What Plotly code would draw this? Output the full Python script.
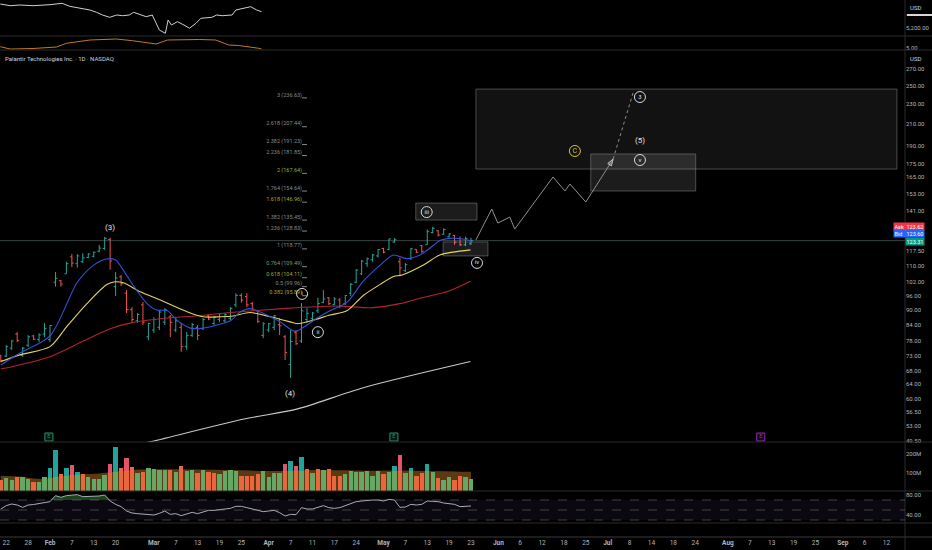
import numpy as np
import plotly.graph_objects as go

W, H = 932, 550
PLOT_W, PLOT_H = 905, 537   # price scale and time scale live in the margins
FONT = "Roboto"
BG = "#000000"
AX = "#b2b5be"
SEP = "#2b2b2b"
UP, DN = "#26a69a", "#ef5350"

# x = trading-day index, 0 = 22 Jan 2025
bar_idx = list(range(-1, 86))
opens = [73.0, 72.8, 75.5, 80.5, 73.0, 76.5, 79.8, 78.5, 80.5, 78.5,
         102.0, 102.7, 106.0, 114.5, 111.0, 112.0, 114.2, 114.8, 117.5, 119.0,
         124.0, 100.0, 104.5, 97.0, 90.0, 85.5, 92.0, 79.5, 82.0, 83.0,
         85.0, 87.0, 82.0, 83.0, 76.0, 80.0, 83.0, 82.5, 87.5, 84.5,
         86.0, 85.5, 86.5, 92.0, 96.0, 95.5, 92.5, 89.5, 80.0, 82.0,
         83.0, 84.0, 79.5, 70.0, 81.0, 78.0, 86.0, 86.5, 89.5, 93.0,
         95.0, 92.0, 94.0, 92.5, 97.0, 102.0, 106.0, 111.0, 113.0, 115.0,
         119.0, 118.5, 122.5, 112.0, 107.5, 113.5, 118.5, 120.5, 121.0, 128.0,
         129.0, 127.0, 125.5, 126.3, 124.5, 121.0, 121.5]
highs = [73.2, 76.6, 78.3, 81.2, 75.9, 80.1, 80.1, 80.8, 84.6, 83.9,
         106.8, 103.0, 112.0, 116.0, 116.0, 116.4, 116.4, 117.3, 120.9, 125.4,
         125.0, 106.8, 105.4, 98.4, 91.0, 88.6, 93.2, 84.7, 87.0, 89.8,
         90.6, 87.8, 87.0, 84.7, 81.2, 84.7, 83.9, 86.6, 87.8, 87.4,
         88.6, 88.6, 91.0, 97.0, 97.0, 97.0, 93.2, 89.8, 85.0, 84.7,
         87.8, 86.6, 80.1, 82.0, 82.0, 92.7, 90.6, 89.0, 95.0, 98.4,
         95.3, 95.3, 94.9, 96.2, 101.6, 108.3, 112.9, 114.2, 116.0, 118.7,
         119.3, 124.3, 124.8, 114.0, 111.3, 119.3, 118.7, 120.9, 129.8, 131.4,
         129.4, 130.4, 127.5, 126.6, 125.6, 125.6, 125.0]
lows = [70.7, 72.5, 74.9, 77.6, 72.5, 75.9, 78.3, 77.6, 79.4, 77.6,
        100.0, 100.0, 106.0, 109.3, 109.0, 111.4, 113.8, 114.3, 116.9, 118.2,
        108.0, 95.8, 100.2, 88.6, 85.0, 84.7, 83.9, 78.3, 80.9, 82.0,
        83.9, 79.4, 81.2, 74.2, 74.9, 79.4, 78.3, 82.0, 85.8, 83.9,
        85.0, 84.7, 85.8, 91.0, 92.9, 91.0, 89.8, 84.7, 79.0, 81.2,
        82.0, 80.1, 71.5, 65.9, 76.6, 77.3, 84.7, 85.8, 88.6, 92.7,
        91.9, 91.9, 90.6, 91.9, 95.8, 101.6, 105.4, 109.4, 112.0, 114.2,
        116.4, 118.2, 122.2, 105.4, 106.8, 112.9, 116.4, 116.4, 120.9, 127.5,
        125.7, 126.8, 125.2, 121.0, 120.3, 120.3, 121.0]
closes = [71.3, 76.0, 78.0, 78.2, 75.5, 79.5, 78.6, 80.2, 82.5, 83.7,
          103.8, 101.1, 111.0, 111.3, 115.0, 114.0, 116.0, 117.0, 119.2, 124.6,
          112.4, 104.0, 101.3, 90.0, 86.0, 88.0, 85.0, 84.5, 86.0, 89.0,
          90.0, 84.9, 85.5, 76.0, 80.0, 84.0, 80.0, 86.0, 86.2, 87.0,
          88.3, 88.0, 90.5, 96.0, 94.0, 92.0, 90.2, 85.3, 84.4, 84.3,
          87.5, 83.6, 74.0, 77.8, 77.0, 89.5, 88.5, 88.6, 92.5, 94.5,
          92.5, 94.5, 91.5, 96.0, 101.0, 107.8, 112.3, 113.5, 115.5, 118.4,
          117.0, 124.3, 123.8, 108.9, 110.5, 118.8, 117.0, 117.5, 128.5, 130.5,
          126.5, 129.8, 127.2, 122.5, 121.0, 124.5, 123.3]
last_price = 123.31

# moving averages (sparse readings, drawn as smooth lines)
ema_fast_x = [-1, 2.5, 8, 13, 16, 18.3, 20, 21.4, 23.2, 25.7, 27.5, 29.4, 31.2, 33.7, 36, 38.5, 41, 42.8,
              44.6, 48.3, 50.1, 52.8, 55, 56.8, 59.2, 62.3, 65.3, 68.4, 70.8, 73.2, 75.7, 77.4, 79.4, 81.1, 83.5, 84.9]
ema_fast_y = [69.9, 73.8, 79.8, 102, 110.3, 113.4, 112.9, 107.8, 100.6, 92.6, 89.8, 89.6, 85.8, 82.7, 82.7, 83.9, 85.5, 89.0,
              90.4, 87.1, 85.1, 81.5, 83.9, 86.5, 89.5, 93.0, 102.5, 110.3, 115.5, 113.6, 115.5, 119.0, 123.5, 124.6, 124.2, 123.2]
ema_mid_x = [-1, 2.5, 8, 11, 14.8, 18.4, 19.9, 21.4, 24.5, 28.2, 33, 36, 39.1, 41.5,
             44.6, 48.3, 51.9, 53.2, 56.2, 59.2, 62.3, 65.3, 68.4, 70.8, 72.4, 76.3, 79.3, 84.9]
ema_mid_y = [71, 73.2, 76, 83.1, 92.6, 100.9, 102.2, 101.7, 97.6, 94, 89.2, 87.1, 87.1, 87.4,
             88.8, 87.1, 85.1, 84.4, 85.8, 87.8, 89.5, 96, 101, 104.7, 105.4, 110.3, 115.5, 118.2]
sma_mid_x = [-1, 8, 14, 19, 23, 29, 35, 41, 50, 60, 67, 72, 76, 81, 84.9]
sma_mid_y = [68.6, 72.6, 77.9, 82.5, 84.8, 86.5, 87.5, 88.8, 90.3, 91.5, 90.8, 92.5, 95, 98, 102.4]
sma_slow_x = [24, 26.3, 43.5, 53.3, 65.3, 84.9]
sma_slow_y = [48.6, 49.2, 54.6, 57.2, 63.0, 71.0]

# volume, millions; kind: g/o normal up/down, T/P above-average up/down
vol_m = [59, 68, 59, 77, 74, 65, 50, 47, 77, 126,
         222, 90, 126, 140, 101, 92, 77, 63, 67, 86,
         146, 236, 126, 178, 130, 95, 101, 122, 117, 113,
         113, 113, 104, 135, 110, 113, 99, 113, 101, 95,
         92, 110, 113, 110, 81, 81, 81, 90, 108, 77,
         95, 95, 146, 164, 135, 182, 119, 95, 119, 113,
         119, 83, 83, 90, 110, 104, 104, 110, 81, 108,
         90, 101, 135, 196, 95, 122, 81, 95, 144, 101,
         68, 59, 74, 59, 81, 77, 65]
vol_kind = ("oggoggogg" "TToTPTogggg" "PToPogogggg" "ogoggogoog" "gggooooggg"
            "gPTPTogogo" "oogggggggo" "gTPgTooTgo" "ggoogg")
hi_idx = [8, 9, 11, 12, 13, 19, 20, 22, 51, 52, 53, 54, 71, 72, 74, 77]
hi_base = [72, 78, 82, 85, 88, 100, 102, 108, 108, 108, 108, 110, 110, 110, 110, 108]
vma_x = [-1, 2.5, 5, 7, 11, 17, 23, 29, 41, 50, 56, 66, 75, 85]
vma_y = [83, 78, 68, 66, 85, 95, 113, 117, 113, 108, 113, 110, 110, 104]

rsi = [52, 58.7, 62, 60, 55.3, 60, 61, 62.5, 64.7, 66.7,
       78.7, 75.3, 78.7, 80, 80.7, 76.7, 76.7, 77.3, 78, 80,
       68, 61.3, 56.7, 48, 44, 42.7, 42, 40.7, 40, 43.3,
       48, 41.3, 42.7, 38.7, 41.3, 45.3, 42.7, 46.7, 49.3, 49.3,
       50.7, 51.3, 53.3, 57.3, 57.3, 54.7, 52, 48, 46.7, 48,
       49.3, 44.7, 38, 41.3, 40.7, 54.7, 52, 52, 55.3, 58.7,
       54.7, 53.3, 54.7, 58.7, 63.3, 66.7, 68, 69.3, 70, 70,
       68, 71.3, 70, 55.3, 56, 61.3, 60, 61.3, 68, 67.3,
       66.7, 64, 62.7, 61.3, 56.7, 57.3, 58]

# comparison panes above the price chart
cmp_x = [-1.1, 0.7, 2.5, 4.9, 8, 10.2, 11.6, 13.5, 15.3, 16.5, 17.6, 18.9, 20.2, 21.3, 22.5, 23.3, 24.4, 25.6, 26.7,
         28, 29.1, 29.6, 30.2, 31.3, 32.5, 33.5, 34.7, 35.6, 37.6, 38.5, 39.5, 41.3, 42, 43.8, 44.7, 45.8, 46.7]
cmp_y = [6107, 6043, 6069, 6043, 6081, 6134, 6020, 5945, 5880, 5793, 5691, 5604, 5691, 5665, 5691, 5793, 5718, 5627, 5691,
         5124, 4999, 5502, 5313, 5438, 5313, 5189, 5378, 5567, 5604, 5691, 5665, 5691, 5880, 5945, 6005, 5880, 5816]
ratio_x = [-1.1, 0.7, 4.9, 9.2, 11, 15.3, 20.1, 23.1, 27.4, 29.5, 35.3, 38.3, 40.7, 42.5, 46.2, 46.7]
ratio_y = [5.26, 4.8, 4.9, 5.2, 5.94, 6.6, 6.8, 6.46, 5.8, 6.6, 6.7, 6.6, 5.6, 5.5, 4.94, 4.8]

# fib extension
fib_levels = [3, 2.618, 2.382, 2.236, 2, 1.764, 1.618, 1.382, 1.236, 1, 0.764, 0.618, 0.5, 0.382]
fib_prices = [236.63, 207.44, 191.23, 181.85, 167.64, 154.64, 146.96, 135.45, 128.83, 118.77, 109.49, 104.11, 99.96, 95.89]
fib_x = [54.1, 55.0]

# elliott wave drawings
wave_x = [54.1, 57.0, 76.9, 86.1, 115.9, 115.9]
wave_y = [96.7, 81.2, 140.5, 111.4, 178.2, 237.6]
wave_txt = ["i", "ii", "iii", "iv", "v", "3"]
wave_c = [104.0, 185.7]
deg_x = [19.0, 51.9, 115.9]
deg_y = [130.6, 61.2, 194.3]
deg_txt = ["(3)", "(4)", "(5)"]
proj_x = [85.9, 88.8, 89.9, 92.1, 93.0, 100.0, 102.2, 103.1, 106.0, 111.0]
proj_y = [123.7, 142.5, 133.6, 137.3, 130.0, 164.9, 154.7, 159.7, 147.1, 179.0]
proj_dot_x = [111.0, 114.8]
proj_dot_y = [179.0, 245.3]
boxes = {  # x0, x1, y0, y1
    "target": [85.9, 162.9, 171.0, 246.4],
    "wave_v": [106.9, 126.1, 154.7, 183.2],
    "wave_iii": [74.9, 86.1, 135.5, 146.4],
    "wave_iv": [79.9, 88.1, 115.0, 122.6],
}
earn_x = [7.8, 70.9, 138.0]
earn_col = ["#1f9a6e", "#1f9a6e", "#a020c0"]

# axis ticks
price_ticks = [270, 250, 230, 210, 190, 175, 165, 153, 141, 117.5, 110, 102, 96, 90, 84, 78, 73, 68, 64, 60, 56.5, 53, 49.5]
x_ticks = [0, 4, 8, 12, 16, 20, 27, 31, 35, 39, 43, 48, 52, 56, 60, 64, 69, 73, 77, 81, 85,
           90, 94, 98, 102, 106, 110, 114, 118, 122, 126, 132, 136, 140, 144, 148, 153, 157, 161]
x_labels = ["22", "28", "Feb", "7", "13", "20", "Mar", "7", "13", "19", "25", "Apr", "7", "11", "17", "24",
            "May", "7", "13", "19", "23", "Jun", "6", "12", "18", "25", "Jul", "8", "14", "18", "24",
            "Aug", "7", "13", "19", "25", "Sep", "6", "12"]
months = {"Feb", "Mar", "Apr", "May", "Jun", "Jul", "Aug", "Sep"}

X_LO, X_HI = -1.145, 164.38
P_LO, P_HI = 49.17, 294.5


def frac(py):
    # pixel row inside the plotting area -> paper fraction
    return 1 - py / PLOT_H


fig = go.Figure()

# --- comparison panes
fig.add_trace(go.Scatter(x=cmp_x, y=cmp_y, yaxis="y4", mode="lines",
                         line=dict(color="#cfcfcf", width=1)))
fig.add_trace(go.Scatter(x=ratio_x, y=ratio_y, yaxis="y5", mode="lines",
                         line=dict(color="#c27a22", width=1)))

# --- drawings behind the bars
for name, (x0, x1, y0, y1) in boxes.items():
    fill = "rgba(255,255,255,0.07)" if name == "target" else "rgba(255,255,255,0.11)"
    fig.add_trace(go.Scatter(x=[x0, x1, x1, x0, x0], y=[y0, y0, y1, y1, y0], mode="lines",
                             fill="toself", fillcolor=fill,
                             line=dict(color="rgba(150,150,150,0.45)", width=1)))

fig.add_trace(go.Scatter(x=[X_LO, X_HI], y=[last_price, last_price], mode="lines",
                         line=dict(color="rgba(120,150,150,0.45)", width=1)))

# --- price bars
fig.add_trace(go.Ohlc(x=bar_idx, open=opens, high=highs, low=lows, close=closes,
                      increasing=dict(line=dict(color=UP, width=1)),
                      decreasing=dict(line=dict(color=DN, width=1)),
                      tickwidth=0.35, hoverinfo="skip"))

# --- moving averages
for xs, ys, col in [(sma_slow_x, sma_slow_y, "#c8c8c8"), (sma_mid_x, sma_mid_y, "#b3232f"),
                    (ema_mid_x, ema_mid_y, "#e3d45e"), (ema_fast_x, ema_fast_y, "#3550d8")]:
    fig.add_trace(go.Scatter(x=xs, y=ys, mode="lines",
                             line=dict(color=col, width=1.1, shape="spline", smoothing=0.8)))

# --- projection path
fig.add_trace(go.Scatter(x=proj_x, y=proj_y, mode="lines+markers",
                         line=dict(color="#8f8f8f", width=1),
                         marker=dict(symbol="arrow", angleref="previous", color="#8f8f8f",
                                     size=[0] * (len(proj_x) - 1) + [7])))
fig.add_trace(go.Scatter(x=proj_dot_x, y=proj_dot_y, mode="lines",
                         line=dict(color="#8f8f8f", width=1, dash="dot")))

# --- fib extension labels
fib_cols = ["#a6a63a" if lv in (2, 1.618, 0.618, 0.382) else ("#7f9a80" if lv == 0.764 else "#8a8a8a")
            for lv in fib_levels]
fx, fy = [], []
for p in fib_prices:
    fx += fib_x + [None]
    fy += [p, p, None]
fig.add_trace(go.Scatter(x=fx, y=fy, mode="lines", line=dict(color="#8a8a8a", width=1)))
fig.add_trace(go.Scatter(x=[fib_x[0]] * len(fib_prices), y=fib_prices, mode="text",
                         text=[f"{lv} ({p:.2f})" for lv, p in zip(fib_levels, fib_prices)],
                         textposition="top left",
                         textfont=dict(family=FONT, size=5.5, color=fib_cols)))

# --- wave labels
fig.add_trace(go.Scatter(x=wave_x, y=wave_y, mode="markers+text", text=wave_txt,
                         textposition="middle center",
                         textfont=dict(family=FONT, size=6, color="#e0e0e0"),
                         marker=dict(symbol="circle-open", size=11, color="#d8d8d8", line=dict(width=1))))
fig.add_trace(go.Scatter(x=[wave_c[0]], y=[wave_c[1]], mode="markers+text", text=["C"],
                         textposition="middle center",
                         textfont=dict(family=FONT, size=7, color="#c8c83a"),
                         marker=dict(symbol="circle-open", size=11, color="#c8c83a", line=dict(width=1))))
fig.add_trace(go.Scatter(x=deg_x, y=deg_y, mode="text", text=deg_txt,
                         textfont=dict(family=FONT, size=8, color="#e6e6e6")))

# earnings flags
fig.add_trace(go.Scatter(x=earn_x, y=[50.3] * len(earn_x), mode="markers+text", text=["E"] * len(earn_x),
                         textposition="middle center",
                         textfont=dict(family=FONT, size=5.5, color=earn_col),
                         marker=dict(symbol="square", size=8, color="#07120e",
                                     line=dict(color=earn_col, width=1))))

# --- volume pane: MA area on y2, bars on y6 (overlaying, so drawn on top)
kind_col = {"g": "#66a766", "o": "#e8673c", "T": "#22a39a", "P": "#e25468"}
fig.add_trace(go.Scatter(x=vma_x, y=vma_y, yaxis="y2", mode="lines", fill="tozeroy",
                         fillcolor="#5a3a12", line=dict(color="#5a3a12", width=0, shape="spline")))
fig.add_trace(go.Bar(x=bar_idx, y=vol_m, yaxis="y6", width=0.8,
                     marker=dict(color=[kind_col[k] for k in vol_kind], line=dict(width=0))))
fig.add_trace(go.Bar(x=hi_idx, y=hi_base, yaxis="y6", width=0.8,
                     marker=dict(color=[kind_col["g" if vol_kind[i + 1] == "T" else "o"] for i in hi_idx],
                                 line=dict(width=0))))

# --- RSI pane
rsi_arr = np.array(rsi)
fig.add_trace(go.Scatter(x=bar_idx, y=[70] * len(bar_idx), yaxis="y3", mode="lines",
                         line=dict(width=0)))
fig.add_trace(go.Scatter(x=bar_idx, y=np.maximum(rsi_arr, 70), yaxis="y3", mode="lines",
                         fill="tonexty", fillcolor="rgba(46,125,50,0.55)", line=dict(width=0)))
fig.add_trace(go.Scatter(x=bar_idx, y=rsi, yaxis="y3", mode="lines",
                         line=dict(color="#a9acb4", width=1)))

shapes = []
for py in [36, 50, 442, 491, 523]:
    shapes.append(dict(type="line", xref="paper", yref="paper", x0=0, x1=1.03, y0=frac(py), y1=frac(py),
                       line=dict(color=SEP, width=1)))
shapes.append(dict(type="line", xref="paper", yref="paper", x0=0, x1=1.03, y0=0, y1=0,
                   line=dict(color="#3a3a3a", width=1)))
shapes.append(dict(type="line", xref="paper", yref="paper", x0=1, x1=1, y0=-0.03, y1=1,
                   line=dict(color=SEP, width=1)))
shapes.append(dict(type="rect", xref="paper", yref="y3", x0=0, x1=1, y0=30, y1=70,
                   fillcolor="rgba(126,87,194,0.09)", line=dict(width=0), layer="below"))
for lv in [70, 50, 30]:
    shapes.append(dict(type="line", xref="paper", yref="y3", x0=0, x1=1, y0=lv, y1=lv,
                       line=dict(color="rgba(140,143,152,0.55)", width=0.8, dash="dash")))
shapes.append(dict(type="line", xref="paper", yref="paper", x0=1.002, x1=1.03, y0=frac(15), y1=frac(15),
                   line=dict(color="#d8d8d8", width=2)))

px = lambda x: x / PLOT_W
annotations = [
    dict(xref="paper", yref="paper", x=px(3), y=frac(58), xanchor="left", yanchor="middle", showarrow=False,
         text="Palantir Technologies Inc. · 1D · NASDAQ", font=dict(family=FONT, size=6, color="#d1d4dc")),
    dict(xref="paper", yref="paper", x=px(908), y=frac(7), xanchor="left", yanchor="middle", showarrow=False,
         text="USD", font=dict(family=FONT, size=6, color="#d1d4dc")),
    dict(xref="paper", yref="paper", x=px(908), y=frac(58), xanchor="left", yanchor="middle", showarrow=False,
         text="USD", font=dict(family=FONT, size=6, color="#d1d4dc")),
    dict(xref="paper", yref="paper", x=px(893), y=frac(226), xanchor="left", yanchor="middle", showarrow=False,
         text="Ask  123.62", bgcolor="#f23645", borderpad=0.5, font=dict(family=FONT, size=5.5, color="#ffffff")),
    dict(xref="paper", yref="paper", x=px(893), y=frac(233.5), xanchor="left", yanchor="middle", showarrow=False,
         text="Bid   123.60", bgcolor="#2962ff", borderpad=0.5, font=dict(family=FONT, size=5.5, color="#ffffff")),
    dict(xref="paper", yref="paper", x=px(905), y=frac(241), xanchor="left", yanchor="middle", showarrow=False,
         text=f"{last_price:.2f}", bgcolor="#089981", borderpad=0.5, font=dict(family=FONT, size=5.5, color="#ffffff")),
]

tick_font = dict(family=FONT, size=6, color=AX)


def yax(domain, **kw):
    d = dict(domain=domain, anchor="x", side="right", showgrid=False, zeroline=False, showline=False,
             ticks="", tickfont=tick_font, automargin=False, fixedrange=True)
    d.update(kw)
    return d


fig.update_layout(
    width=W, height=H,
    margin=dict(l=0, r=W - PLOT_W, t=0, b=H - PLOT_H),
    paper_bgcolor=BG, plot_bgcolor=BG,
    showlegend=False, hovermode=False, barmode="overlay", bargap=0,
    font=dict(family=FONT, color=AX, size=6),
    xaxis=dict(domain=[0, 1], range=[X_LO, X_HI], anchor="y3", tickvals=x_ticks,
               ticktext=[f"<b>{t}</b>" if t in months else t for t in x_labels],
               showgrid=False, zeroline=False, showline=False, ticks="",
               tickfont=dict(family=FONT, size=6.5, color=AX), rangeslider=dict(visible=False),
               automargin=False, fixedrange=True),
    yaxis=yax([frac(442), frac(50)], type="log", range=[np.log10(P_LO), np.log10(P_HI)],
              tickvals=price_ticks, ticktext=[f"{v:.2f}" for v in price_ticks]),
    yaxis2=yax([frac(491), frac(442)], range=[0, 265], tickvals=[100, 200], ticktext=["100M", "200M"]),
    yaxis3=yax([0, frac(491)], range=[-4, 88], tickvals=[40, 80], ticktext=["40.00", "80.00"]),
    yaxis4=yax([frac(36), 1], range=[4897.6, 6258.4], tickvals=[5200], ticktext=["5,200.00"]),
    yaxis5=yax([frac(50), frac(36)], range=[4.6, 7.4], tickvals=[5], ticktext=["5.00"]),
    yaxis6=dict(overlaying="y2", anchor="x", side="right", range=[0, 265], showticklabels=False,
                showgrid=False, zeroline=False, fixedrange=True),
    shapes=shapes,
    annotations=annotations,
)

# page body default margin would shift the chart by 8px
fig.write_html("out.html", config={"displayModeBar": False},
               post_script="document.body.style.margin='0';document.body.style.background='#000';")
